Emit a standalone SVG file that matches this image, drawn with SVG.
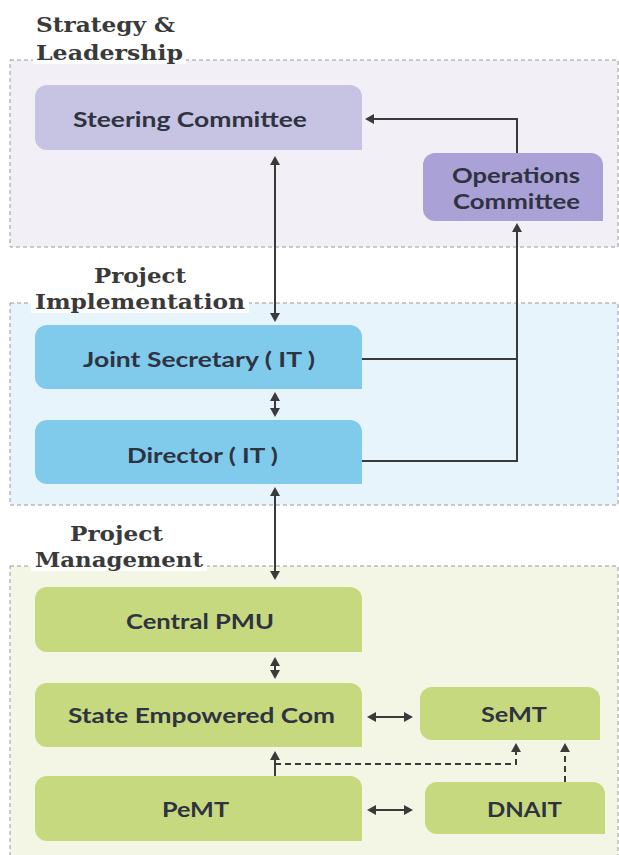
<svg xmlns="http://www.w3.org/2000/svg" width="619" height="855" viewBox="0 0 619 855">
<style>
.panel{stroke:#9a9a9a;stroke-width:1;stroke-dasharray:4 3}
.title{font-family:"DejaVu Serif","Liberation Serif",serif;font-weight:700;font-size:21px;fill:#3a3a3a}
.lbl{font-family:Lato,"Liberation Sans",sans-serif;font-weight:700;font-size:21px;fill:#2f3341}
.c{fill:none;stroke:#3a3a3a;stroke-width:2}
.d{fill:none;stroke:#3a3a3a;stroke-width:2;stroke-dasharray:6 4}
.purple1{fill:#c6c3e3}
.purple2{fill:#aaa2d6}
.blue{fill:#80cbec}
.green{fill:#c6d97e}
</style>
<defs>
<marker id="ah" viewBox="0 0 9 10" refX="6" refY="5" markerWidth="9" markerHeight="10" markerUnits="userSpaceOnUse" orient="auto-start-reverse">
<path d="M0,0 L9,5 L0,10 Z" fill="#3a3a3a"/>
</marker>
</defs>
<rect width="619" height="855" fill="#ffffff"/>

<g id="panel-strategy">
<rect class="panel" x="10" y="60" width="608" height="187" fill="#f2f0f6"/>
<rect x="33" y="0" width="153" height="64" fill="#ffffff"/>
<text class="title" x="36" y="32" textLength="139" lengthAdjust="spacingAndGlyphs">Strategy &amp;</text>
<text class="title" x="36" y="60" textLength="147" lengthAdjust="spacingAndGlyphs">Leadership</text>
</g>
<g id="panel-implementation">
<rect class="panel" x="10" y="303" width="608" height="202" fill="#e7f4fc"/>
<rect x="31" y="262" width="218" height="51" fill="#ffffff"/>
<text class="title" x="94" y="283" textLength="92" lengthAdjust="spacingAndGlyphs">Project</text>
<text class="title" x="35" y="309" textLength="210" lengthAdjust="spacingAndGlyphs">Implementation</text>
</g>
<g id="panel-management">
<rect class="panel" x="10" y="566" width="608" height="300" fill="#f3f6e5"/>
<rect x="31" y="513" width="176" height="58" fill="#ffffff"/>
<text class="title" x="70" y="541" textLength="93" lengthAdjust="spacingAndGlyphs">Project</text>
<text class="title" x="35" y="567" textLength="168" lengthAdjust="spacingAndGlyphs">Management</text>
</g>

<g id="connectors">
<line class="c" x1="275" y1="159" x2="275" y2="319" marker-start="url(#ah)" marker-end="url(#ah)"/>
<path class="c" d="M517,153 V119 H368" marker-end="url(#ah)"/>
<path class="c" d="M362,359 H517"/>
<path class="c" d="M362,461 H517 V226" marker-end="url(#ah)"/>
<line class="c" x1="275" y1="395" x2="275" y2="414" marker-start="url(#ah)" marker-end="url(#ah)"/>
<line class="c" x1="275" y1="490" x2="275" y2="577" marker-start="url(#ah)" marker-end="url(#ah)"/>
<line class="c" x1="275" y1="660" x2="275" y2="676" marker-start="url(#ah)" marker-end="url(#ah)"/>
<line class="c" x1="370" y1="717" x2="410" y2="717" marker-start="url(#ah)" marker-end="url(#ah)"/>
<line class="c" x1="370" y1="810" x2="410" y2="810" marker-start="url(#ah)" marker-end="url(#ah)"/>
<line class="c" x1="275" y1="776" x2="275" y2="754" marker-end="url(#ah)"/>
<path class="d" d="M275,764 H516 V746" marker-end="url(#ah)"/>
<path class="d" d="M565,782 V746" marker-end="url(#ah)"/>
</g>

<g id="steering-committee">
<path class="purple1" d="M47,85 H350 A12,12 0 0 1 362,97 V150 H47 A12,12 0 0 1 35,138 V97 A12,12 0 0 1 47,85 Z"/>
<text class="lbl" x="73" y="127" textLength="234" lengthAdjust="spacingAndGlyphs">Steering Committee</text>
</g>
<g id="operations-committee">
<path class="purple2" d="M435,153 H591 A12,12 0 0 1 603,165 V221 H435 A12,12 0 0 1 423,209 V165 A12,12 0 0 1 435,153 Z"/>
<text class="lbl" x="452" y="183" textLength="128" lengthAdjust="spacingAndGlyphs">Operations</text>
<text class="lbl" x="453" y="209" textLength="127" lengthAdjust="spacingAndGlyphs">Committee</text>
</g>
<g id="joint-secretary">
<path class="blue" d="M47,325 H350 A12,12 0 0 1 362,337 V389 H47 A12,12 0 0 1 35,377 V337 A12,12 0 0 1 47,325 Z"/>
<text class="lbl" x="83" y="367" textLength="232" lengthAdjust="spacingAndGlyphs">Joint Secretary ( IT )</text>
</g>
<g id="director">
<path class="blue" d="M47,420 H350 A12,12 0 0 1 362,432 V484 H47 A12,12 0 0 1 35,472 V432 A12,12 0 0 1 47,420 Z"/>
<text class="lbl" x="127" y="463" textLength="151" lengthAdjust="spacingAndGlyphs">Director ( IT )</text>
</g>
<g id="central-pmu">
<path class="green" d="M47,587 H350 A12,12 0 0 1 362,599 V652 H47 A12,12 0 0 1 35,640 V599 A12,12 0 0 1 47,587 Z"/>
<text class="lbl" x="126" y="629" textLength="148" lengthAdjust="spacingAndGlyphs">Central PMU</text>
</g>
<g id="state-empowered-com">
<path class="green" d="M47,683 H350 A12,12 0 0 1 362,695 V747 H47 A12,12 0 0 1 35,735 V695 A12,12 0 0 1 47,683 Z"/>
<text class="lbl" x="68" y="723" textLength="267" lengthAdjust="spacingAndGlyphs">State Empowered Com</text>
</g>
<g id="semt">
<path class="green" d="M432,687 H588 A12,12 0 0 1 600,699 V740 H432 A12,12 0 0 1 420,728 V699 A12,12 0 0 1 432,687 Z"/>
<text class="lbl" x="481" y="722" textLength="66" lengthAdjust="spacingAndGlyphs">SeMT</text>
</g>
<g id="pemt">
<path class="green" d="M47,776 H350 A12,12 0 0 1 362,788 V841 H47 A12,12 0 0 1 35,829 V788 A12,12 0 0 1 47,776 Z"/>
<text class="lbl" x="162" y="817" textLength="67" lengthAdjust="spacingAndGlyphs">PeMT</text>
</g>
<g id="dnait">
<path class="green" d="M437,782 H593 A12,12 0 0 1 605,794 V834 H437 A12,12 0 0 1 425,822 V794 A12,12 0 0 1 437,782 Z"/>
<text class="lbl" x="487" y="817" textLength="75" lengthAdjust="spacingAndGlyphs">DNAIT</text>
</g>
</svg>
